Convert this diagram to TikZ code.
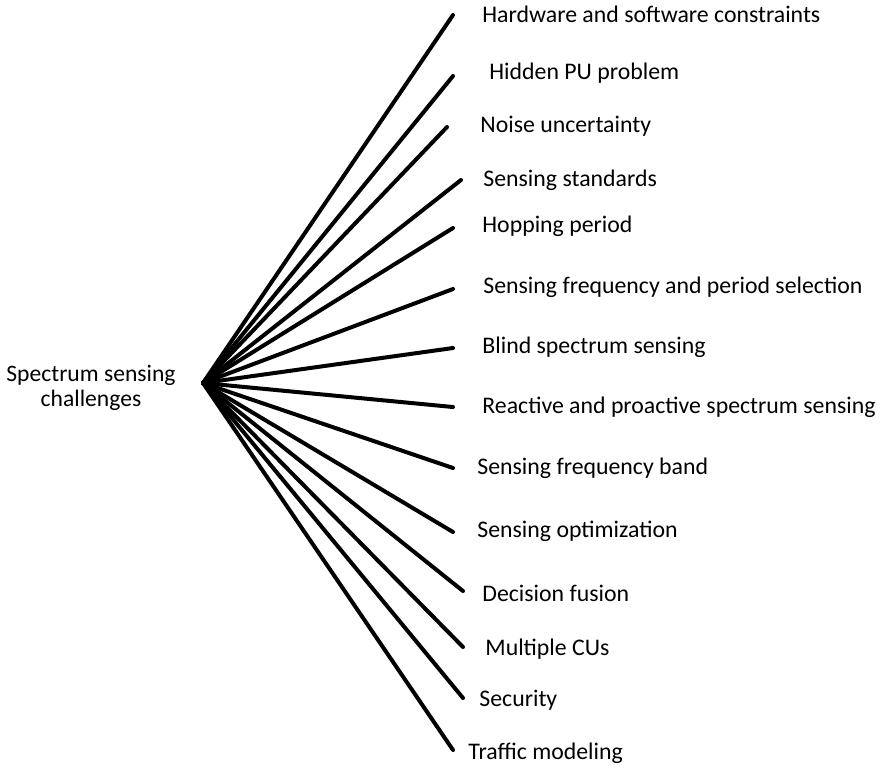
\documentclass[tikz,border=0pt]{standalone}
\usepackage{fontspec}
\setmainfont{Carlito}
\usepackage{tikz}
\usetikzlibrary{positioning}

\tikzset{
    leaf/.style={anchor=west, inner sep=0pt, font=\fontsize{11.9}{12.5}\selectfont},
    spoke/.style={line width=2pt, line cap=round}
}

\begin{document}
\begin{tikzpicture}[x=0.5pt, y=-0.5pt]
    \useasboundingbox (0,0) rectangle (881,768);

    \node[align=center, inner sep=0pt, font=\fontsize{11.8}{12.5}\selectfont] (root) at (91,388) {Spectrum sensing\\challenges};
    \coordinate (hub) at (203,383);

    % end of each spoke / place of each label
    \foreach \ex/\ey/\lx/\ly/\txt [count=\i] in {
        453/15/482/14/Hardware and software constraints,
        453/76/489/73/Hidden PU problem,
        447/127/480/126/Noise uncertainty,
        461/180/483/180/Sensing standards,
        453/228/482/226/Hopping period,
        453/289/483/287/Sensing frequency and period selection,
        453/348/482/347/Blind spectrum sensing,
        453/407/482/407/Reactive and proactive spectrum sensing,
        453/468/477/468/Sensing frequency band,
        453/532/477/531/Sensing optimization,
        463/591/482/593/Decision fusion,
        463/647/485/649/Multiple CUs,
        463/698/479/700/Security,
        453/750/468/753/Traffic modeling} {
        \coordinate (e\i) at (\ex,\ey);
        \node[leaf] (c\i) at (\lx,\ly) {\txt};
        \draw[spoke] (hub) -- (e\i);
    }
\end{tikzpicture}
\end{document}
